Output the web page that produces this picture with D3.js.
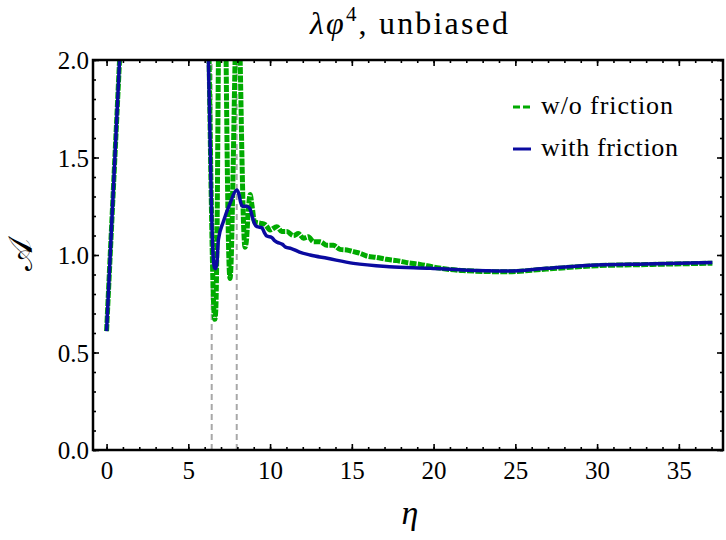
<!DOCTYPE html>
<html>
<head>
<meta charset="utf-8">
<script src="https://cdn.jsdelivr.net/npm/d3@7"></script>
<style>
  body { margin: 0; background: #fff; }
  svg text { font-family: 'Liberation Serif' !important; }
  svg text.script { font-family: 'Liberation Serif', 'DejaVu Sans', 'Noto Sans', sans-serif !important; }
</style>
</head>
<body>
<div id="chart"></div>
<script>
// w/o friction (green, dashed)
const etaGreen = [0, 0.2, 0.4, 0.6, 0.8, 1.0, 6.0, 6.15, 6.27, 6.38, 6.48, 6.56, 6.62, 6.68, 6.76, 6.84,
  6.95, 7.07, 7.19, 7.31, 7.4, 7.48, 7.55, 7.62, 7.72, 7.86, 8.01, 8.17, 8.28, 8.38, 8.47, 8.56, 8.66,
  8.78, 8.9, 9.05, 9.39, 9.69, 10.0, 10.41, 10.71, 11.02, 11.43, 11.73, 12.04, 12.34, 12.65, 13.06,
  13.47, 13.87, 14.28, 14.69, 15.1, 15.5, 15.9, 16.5, 17.1, 17.75, 18.36, 19.17, 20.2, 21.8, 24.5,
  26.9, 30, 33, 37.05];
const aGreen = [0.61, 0.96, 1.31, 1.66, 2.01, 2.36, 3.6, 2.6, 2.0, 1.4, 0.95, 0.72, 0.67, 0.72, 1.15, 2.0,
  2.9, 3.3, 2.9, 2.0, 1.35, 0.98, 0.88, 0.97, 1.35, 2.0, 2.5, 2.0, 1.5, 1.15, 1.04, 1.08, 1.22,
  1.31, 1.25, 1.17, 1.163, 1.157, 1.128, 1.145, 1.12, 1.12, 1.1, 1.11, 1.086, 1.094, 1.068, 1.068,
  1.05, 1.05, 1.029, 1.026, 1.017, 1.009, 0.995, 0.988, 0.978, 0.971, 0.961, 0.952, 0.935, 0.92, 0.914,
  0.928, 0.945, 0.951, 0.958];

// with friction (blue)
const etaBlue = [0, 0.2, 0.4, 0.6, 0.8, 1.0, 6.0, 6.2, 6.3, 6.4, 6.5, 6.6, 6.68, 6.76, 6.84, 7.14, 7.55,
  7.96, 8.1, 8.2, 8.3, 8.55, 8.75, 8.9, 9.05, 9.2, 9.5, 9.65, 9.8, 10.1, 10.3, 10.45, 10.75, 10.95,
  11.3, 11.8, 12.45, 13.5, 15.1, 17.3, 19.8, 21.8, 24.5, 26.9, 30, 33, 37.05];
const aBlue = [0.61, 0.96, 1.31, 1.66, 2.01, 2.36, 3.2, 2.1, 1.72, 1.3, 1.02, 0.935, 0.93, 0.97, 1.08,
  1.17, 1.265, 1.333, 1.31, 1.27, 1.25, 1.25, 1.24, 1.2, 1.16, 1.145, 1.14, 1.115, 1.097, 1.09, 1.072,
  1.065, 1.055, 1.04, 1.033, 1.015, 1.0, 0.983, 0.957, 0.94, 0.932, 0.923, 0.918, 0.932, 0.949, 0.954,
  0.962];

// gray dashed markers
const markers = [6.43, 7.96];

const xTicks = [0, 5, 10, 15, 20, 25, 30, 35];
const yTicks = [0, 0.5, 1.0, 1.5, 2.0];

const width = 726, height = 540;
const mLeft = 93, mRight = 723, mTop = 60, mBottom = 450;

const svg = d3.select("#chart").append("svg")
  .attr("width", width)
  .attr("height", height);

const x = d3.scaleLinear().domain([-0.83, 37.7]).range([mLeft, mRight]);
const y = d3.scaleLinear().domain([0, 2]).range([mBottom, mTop]);

svg.append("clipPath").attr("id", "clip")
  .append("rect")
  .attr("x", mLeft).attr("y", mTop)
  .attr("width", mRight - mLeft).attr("height", mBottom - mTop);

const plot = svg.append("g").attr("clip-path", "url(#clip)");

// markers
plot.selectAll(".marker")
  .data(markers)
  .enter()
  .append("line")
    .attr("x1", d => x(d)).attr("x2", d => x(d))
    .attr("y1", y(0)).attr("y2", y(2))
    .attr("stroke", "#a8a8a8")
    .attr("stroke-width", 2)
    .attr("stroke-dasharray", "6,4");

const line = d3.line()
  .x(d => x(d[0]))
  .y(d => y(d[1]))
  .curve(d3.curveMonotoneX);

plot.append("path")
  .attr("d", line(d3.zip(etaGreen, aGreen)))
  .attr("fill", "none")
  .attr("stroke", "#00aa00")
  .attr("stroke-width", 5)
  .attr("stroke-dasharray", "7,1.3");

plot.append("path")
  .attr("d", line(d3.zip(etaBlue, aBlue)))
  .attr("fill", "none")
  .attr("stroke", "#0a0aa0")
  .attr("stroke-width", 3.5)
  .attr("stroke-linejoin", "round");

// ticks on all four sides, pointing inward
const xMinor = d3.range(0, 38, 1);
const yMinor = d3.range(0, 2.01, 0.1);

function ticks(axis, pos, values, size) {
  const g = svg.append("g")
    .attr("transform", pos)
    .call(axis.tickValues(values).tickSize(-size).tickFormat(""));
  g.select(".domain").remove();
  g.selectAll(".tick line").attr("stroke", "#000").attr("stroke-width", 1.6);
  return g;
}

ticks(d3.axisBottom(x), `translate(0,${mBottom})`, xMinor, 3);
ticks(d3.axisTop(x), `translate(0,${mTop})`, xMinor, 3);
ticks(d3.axisTop(x), `translate(0,${mTop})`, xTicks, 6);
ticks(d3.axisLeft(y), `translate(${mLeft},0)`, yMinor, 3);
ticks(d3.axisRight(y), `translate(${mRight},0)`, yMinor, 3);
ticks(d3.axisRight(y), `translate(${mRight},0)`, yTicks, 6);

const xAxis = svg.append("g")
  .attr("transform", `translate(0,${mBottom})`)
  .call(d3.axisBottom(x).tickValues(xTicks).tickSize(-6).tickPadding(11).tickFormat(d3.format("d")))
  .attr("font-family", null)
  .attr("font-size", null);
xAxis.select(".domain").remove();
xAxis.selectAll(".tick line").attr("stroke", "#000").attr("stroke-width", 1.6);
xAxis.selectAll("text").attr("fill", "#000").style("font-size", "25px");

const yAxis = svg.append("g")
  .attr("transform", `translate(${mLeft},0)`)
  .call(d3.axisLeft(y).tickValues(yTicks).tickSize(-6).tickPadding(4).tickFormat(d3.format(".1f")))
  .attr("font-family", null)
  .attr("font-size", null);
yAxis.select(".domain").remove();
yAxis.selectAll(".tick line").attr("stroke", "#000").attr("stroke-width", 1.6);
yAxis.selectAll("text").attr("fill", "#000").attr("dy", "0.34em").style("font-size", "25px");

// frame
svg.append("rect")
  .attr("x", mLeft).attr("y", mTop)
  .attr("width", mRight - mLeft).attr("height", mBottom - mTop)
  .attr("fill", "none")
  .attr("stroke", "#000")
  .attr("stroke-width", 2.5);

// title
const title = svg.append("text")
  .attr("x", 310).attr("y", 34)
  .style("font-size", "32px")
  .attr("textLength", 198)
  .attr("lengthAdjust", "spacing");
title.append("tspan").style("font-style", "italic").text("λφ");
title.append("tspan").attr("dy", -13).style("font-size", "21px").text("4");
title.append("tspan").attr("dy", 13).text(", unbiased");

// axis labels
svg.append("text")
  .attr("x", 410).attr("y", 524)
  .attr("text-anchor", "middle")
  .style("font-style", "italic")
  .style("font-size", "34px")
  .text("η");

svg.append("text")
  .attr("class", "script")
  .attr("transform", "translate(32,255) rotate(-90)")
  .attr("text-anchor", "middle")
  .style("font-size", "34px")
  .text("𝒜");

// legend
const legend = [
  { label: "w/o friction", color: "#00aa00", dash: "7,3", len: 132 },
  { label: "with friction", color: "#0a0aa0", dash: null, len: 137 }
];
const lg = svg.append("g");
legend.forEach((d, i) => {
  const yy = 107 + i * 42;
  lg.append("line")
    .attr("x1", 513).attr("x2", 531)
    .attr("y1", yy).attr("y2", yy)
    .attr("stroke", d.color)
    .attr("stroke-width", 3)
    .attr("stroke-dasharray", d.dash);
  lg.append("text")
    .attr("x", 541).attr("y", yy + 7)
    .style("font-size", "26px")
    .attr("textLength", d.len)
    .attr("lengthAdjust", "spacing")
    .text(d.label);
});
</script>
</body>
</html>
